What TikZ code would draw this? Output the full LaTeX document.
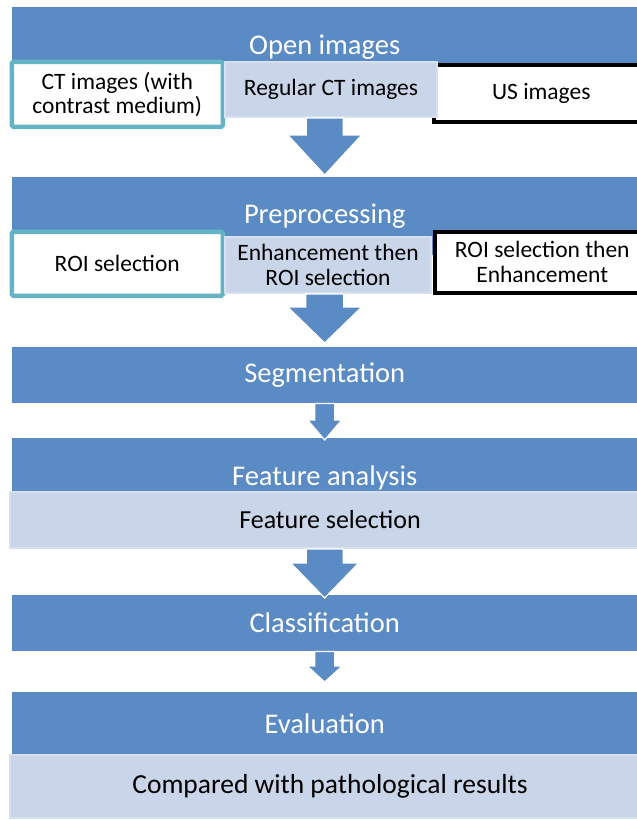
\documentclass[tikz,border=0pt]{standalone}
\usepackage{fontspec}
\setmainfont{Carlito}
\usetikzlibrary{calc,positioning}
\definecolor{flowblue}{RGB}{91,139,196}
\definecolor{flowlight}{RGB}{201,213,232}
\definecolor{flowedge}{RGB}{216,224,238}
\definecolor{flowteal}{RGB}{100,180,198}

% block arrow: from, to, shaft half width, head half width, head length, gap
\newcommand{\blockarrow}[6]{%
  \path[flowarrow] let \p1=(#1.south), \p2=(#2.north) in
    (\x2-#3,\y1) -- (\x2+#3,\y1) -- (\x2+#3,\y2+#5+#6) -- (\x2+#4,\y2+#5+#6)
    -- (\x2,\y2+#6) -- (\x2-#4,\y2+#5+#6) -- (\x2-#3,\y2+#5+#6) -- cycle;}

\begin{document}
\begin{tikzpicture}[x=1pt,y=-1pt,
    bar/.style={rectangle, anchor=north west, fill=flowblue, text=white,
      inner sep=0pt, minimum width=625pt, font=\fontsize{28.5}{31}\selectfont},
    lightbox/.style={rectangle, anchor=north west, fill=flowlight, draw=flowedge,
      line width=2pt, inner sep=0pt, align=center, font=\fontsize{23.5}{25}\selectfont},
    tealbox/.style={rectangle, anchor=north west, fill=white, draw=flowteal,
      line width=4.5pt, rounded corners=1.5pt, inner sep=0pt, align=center,
      font=\fontsize{23.5}{24}\selectfont},
    blackbox/.style={rectangle, anchor=north west, fill=white, draw=black,
      line width=4.5pt, inner sep=0pt, align=center, font=\fontsize{23.5}{25}\selectfont},
    flowarrow/.style={fill=flowblue, draw=white, line width=1.2pt}
  ]
  \useasboundingbox (0,0) rectangle (637,820);

  %% ===== Open images =====
  \node[bar, minimum height=79pt] (open) at (12,7) {Open images};
  \node[tealbox, minimum width=211pt, minimum height=65pt] (ctcm) at (9.5,59.5)
    {CT images (with\\contrast medium)};
  \node[blackbox, minimum width=215pt, minimum height=57pt] (usimg) at (431.5,62.5)
    {US images};
  \node[lightbox, minimum width=212pt, minimum height=55pt] (regct) at (224,61)
    {Regular CT images};

  %% ===== Preprocessing =====
  \node[bar, minimum height=78pt] (prep) at (12,177) {Preprocessing};
  \node[tealbox, minimum width=211pt, minimum height=64pt] (roi) at (9.5,229.5)
    {ROI selection};
  \node[lightbox, minimum width=206pt, minimum height=56pt] (enhroi) at (224,236)
    {Enhancement then\\ROI selection};
  \node[blackbox, minimum width=215pt, minimum height=61pt] (roienh) at (432.5,229.5)
    {ROI selection then\\Enhancement};

  %% ===== Segmentation =====
  \node[bar, minimum height=56pt] (seg) at (12,347) {Segmentation};

  %% ===== Feature analysis =====
  \node[bar, minimum height=80pt] (feat) at (12,438) {Feature analysis};
  \node[lightbox, minimum width=640pt, minimum height=56pt, font=\fontsize{26}{28}\selectfont]
    (fsel) at (9,491) {Feature selection};

  %% ===== Classification =====
  \node[bar, minimum height=56pt] (cls) at (12,595) {Classification};

  %% ===== Evaluation =====
  \node[bar, minimum height=62pt] (eval) at (12,692) {Evaluation};
  \node[lightbox, minimum width=640pt, minimum height=63pt, font=\fontsize{27.5}{30}\selectfont]
    (path) at (9,754) {Compared with pathological results};

  %% --- block arrows ---
  \blockarrow{regct}{prep}{18.5pt}{37pt}{40pt}{2pt}
  \blockarrow{enhroi}{seg}{19pt}{37pt}{36pt}{4pt}
  \blockarrow{seg}{feat}{10pt}{17pt}{20pt}{-2pt}
  \blockarrow{fsel}{cls}{18.5pt}{34pt}{35pt}{-3pt}
  \blockarrow{cls}{eval}{10pt}{17.5pt}{16pt}{10pt}
\end{tikzpicture}
\end{document}
